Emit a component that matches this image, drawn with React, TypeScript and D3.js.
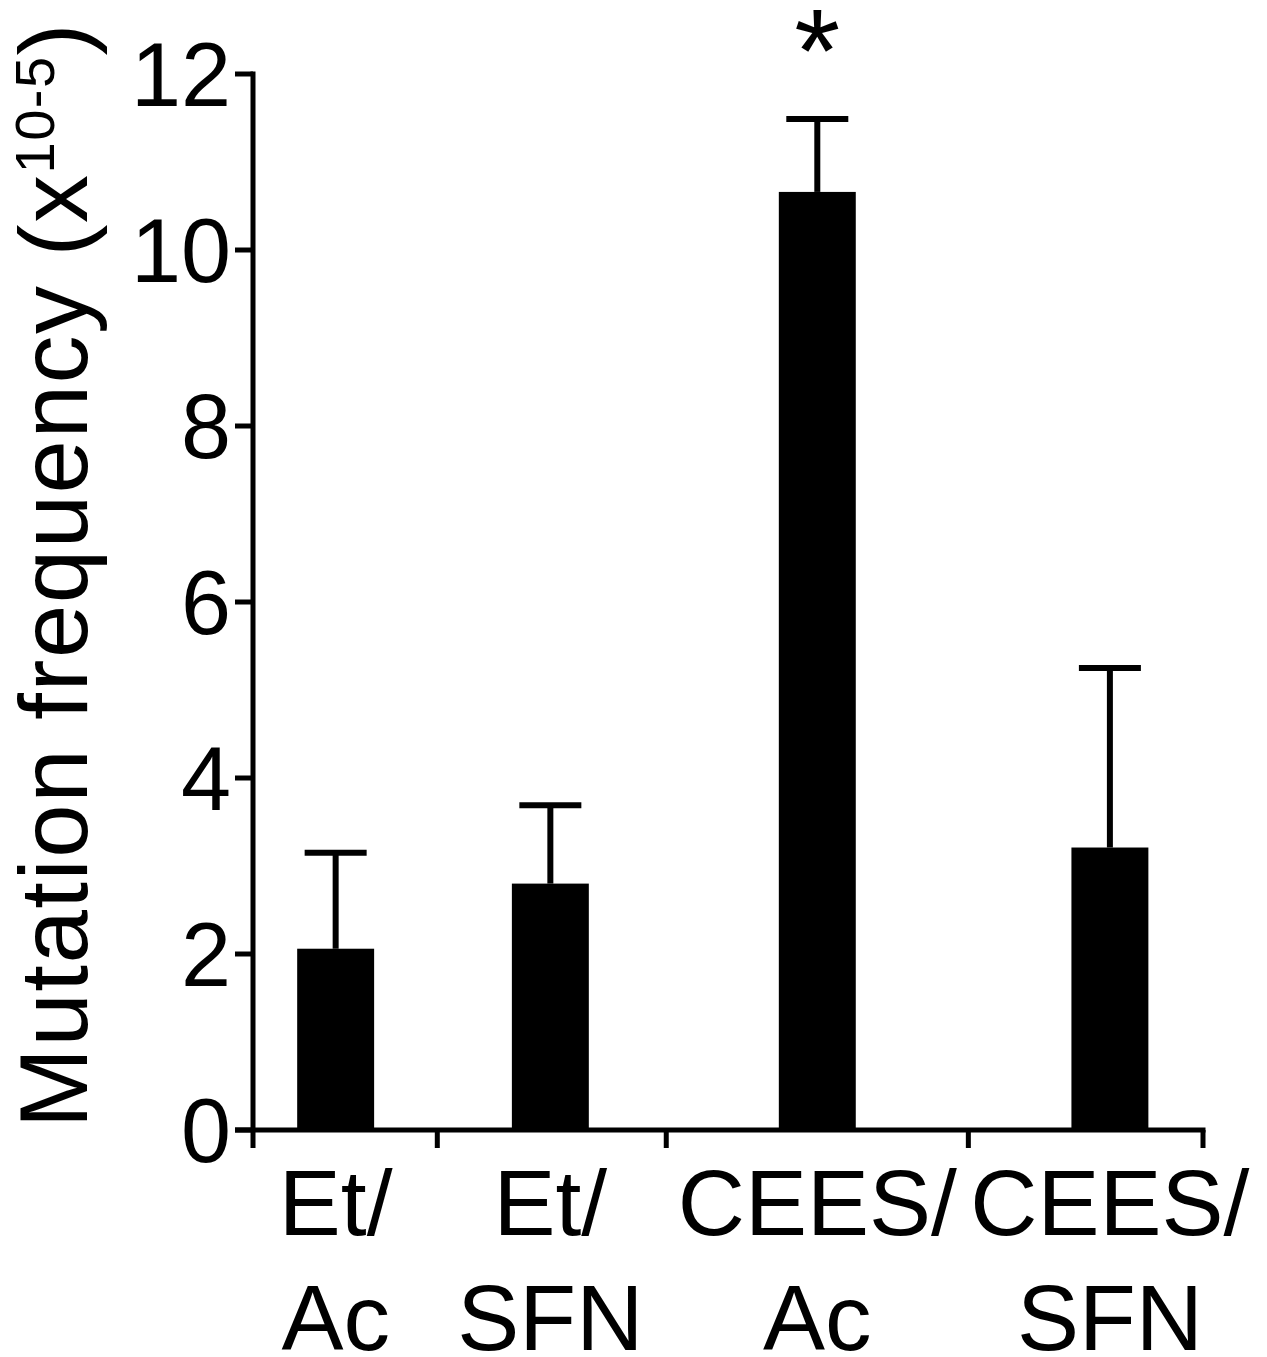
import React from "react";
import * as d3 from "d3";

const categories: string[][] = [
  ["Et/", "Ac"],
  ["Et/", "SFN"],
  ["CEES/", "Ac"],
  ["CEES/", "SFN"],
];
const means = [2.06, 2.8, 10.66, 3.21];
const errTops = [3.15, 3.69, 11.49, 5.25];
const significant = [false, false, true, false];
// category layout slots along the x axis (axis spans 0..10)
const slotCenters = [0.87, 3.13, 5.94, 9.02];
const slotBoundaries = [0, 1.94, 4.35, 7.53, 10];
const barWidthUnits = 0.81;
const yTicks = [0, 2, 4, 6, 8, 10, 12];

const W = 1267;
const H = 1357;
const FONT = "'Liberation Sans', Arial, Helvetica, sans-serif";

export default function App() {
  const x = d3.scaleLinear().domain([0, 10]).range([253, 1203]);
  const y = d3.scaleLinear().domain([0, 12]).range([1130, 74]);
  const bw = x(barWidthUnits) - x(0);
  const axisW = 5;
  const tickLen = 18;
  const capHalf = 31;

  return (
    <svg
      width={W}
      height={H}
      style={{ position: "absolute", left: 0, top: 0, background: "#fff" }}
      fontFamily={FONT}
    >
      <rect x={0} y={0} width={W} height={H} fill="#fff" />
      {/* bars */}
      {means.map((m, i) => (
        <rect
          key={"b" + i}
          x={x(slotCenters[i]) - bw / 2}
          y={y(m)}
          width={bw}
          height={y(0) - y(m)}
          fill="#000"
        />
      ))}
      {/* error bars */}
      {errTops.map((e, i) => (
        <g key={"e" + i} stroke="#000">
          <line
            x1={x(slotCenters[i])}
            x2={x(slotCenters[i])}
            y1={y(means[i])}
            y2={y(e)}
            strokeWidth={6}
          />
          <line
            x1={x(slotCenters[i]) - capHalf}
            x2={x(slotCenters[i]) + capHalf}
            y1={y(e)}
            y2={y(e)}
            strokeWidth={6}
          />
        </g>
      ))}
      {/* significance */}
      {significant.map((s, i) =>
        s ? (
          <text
            key={"s" + i}
            x={x(slotCenters[i])}
            y={y(errTops[i]) - 27}
            textAnchor="middle"
            fontSize={118}
            fill="#000"
          >
            *
          </text>
        ) : null
      )}
      {/* y axis */}
      <line
        x1={x(0)}
        x2={x(0)}
        y1={y(12) - axisW / 2}
        y2={y(0)}
        stroke="#000"
        strokeWidth={axisW}
      />
      {yTicks.map((t) => (
        <g key={"yt" + t}>
          <line
            x1={x(0) - tickLen}
            x2={x(0)}
            y1={y(t)}
            y2={y(t)}
            stroke="#000"
            strokeWidth={axisW}
          />
          <text
            x={231}
            y={y(t) + 32}
            textAnchor="end"
            fontSize={90}
            fill="#000"
          >
            {t}
          </text>
        </g>
      ))}
      {/* x axis */}
      <line
        x1={x(0) - tickLen}
        x2={x(10) + axisW / 2}
        y1={y(0)}
        y2={y(0)}
        stroke="#000"
        strokeWidth={axisW}
      />
      {slotBoundaries.map((b, i) => (
        <line
          key={"xt" + i}
          x1={x(b)}
          x2={x(b)}
          y1={y(0)}
          y2={y(0) + tickLen}
          stroke="#000"
          strokeWidth={axisW}
        />
      ))}
      {/* x labels */}
      {categories.map((c, i) => (
        <text
          key={"xl" + i}
          x={x(slotCenters[i])}
          textAnchor="middle"
          fontSize={93}
          fill="#000"
        >
          <tspan x={x(slotCenters[i])} y={1235}>
            {c[0]}
          </tspan>
          <tspan x={x(slotCenters[i])} y={1350}>
            {c[1]}
          </tspan>
        </text>
      ))}
      {/* y label */}
      <text
        transform="translate(87,575) rotate(-90)"
        textAnchor="middle"
        fontSize={96}
        letterSpacing={1.5}
        fill="#000"
      >
        Mutation frequency (x
        <tspan fontSize={56} dy={-33}>
          10-5
        </tspan>
        <tspan dy={33}>)</tspan>
      </text>
    </svg>
  );
}
